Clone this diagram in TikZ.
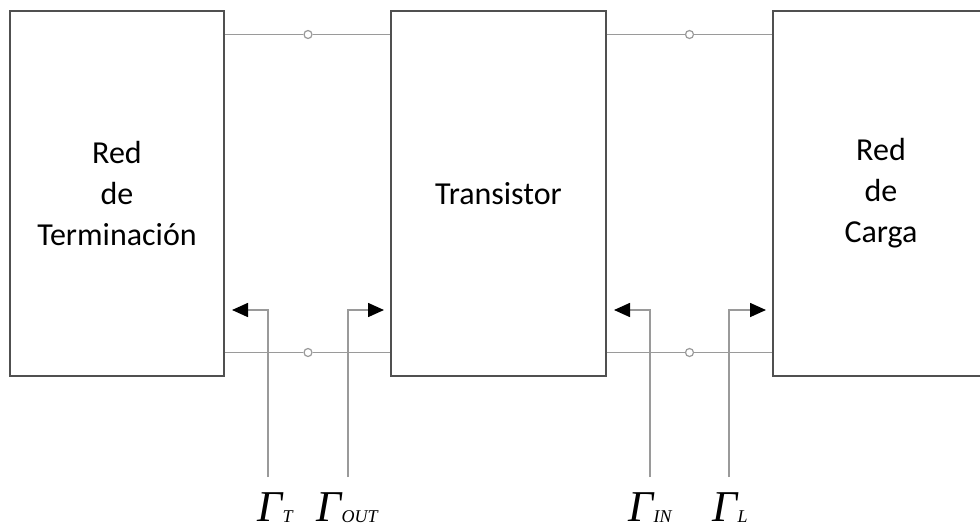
\documentclass[tikz,border=0pt]{standalone}
\usepackage{fontspec}
\setmainfont{Carlito}
\newfontfamily\gfont{Liberation Serif}
\usetikzlibrary{arrows.meta}
\definecolor{boxline}{HTML}{505050}
\definecolor{wirecol}{HTML}{9A9A9A}
\newcommand{\gsub}[1]{\raisebox{-1.5pt}{\fontsize{18}{18}\selectfont #1}}
\begin{document}
\begin{tikzpicture}[x=1pt,y=-1pt,
  blk/.style={draw=boxline,line width=1.8pt,fill=white,inner sep=0pt,align=center,
    font=\fontsize{32}{41}\selectfont},
  wire/.style={draw=wirecol,line width=1.6pt},
  port/.style={circle,draw=wirecol,line width=1.2pt,fill=white,minimum size=8pt,inner sep=0pt},
  refl/.style={draw=wirecol,line width=1.6pt,-{Triangle[length=16pt,width=14pt,fill=black,color=black]}},
  glab/.style={anchor=base,inner sep=0pt,font=\gfont\itshape\fontsize{44}{44}\selectfont}]
\useasboundingbox (0,0) rectangle (980,531);
\node[blk,minimum width=214pt,minimum height=365pt] (term) at (117,193.5) {Red\\de\\Terminación};
\node[blk,minimum width=215pt,minimum height=365pt] (trans) at (498.5,193.5) {Transistor};
\node[blk,minimum width=216pt,minimum height=365pt] (load) at (881,193.5) {Red\\de\\Carga};
\coordinate (ytop) at (0,34.5);
\coordinate (ybot) at (0,352.5);
\node[port] (p1) at (308,34.5) {};
\node[port] (p2) at (308,352.5) {};
\node[port] (p3) at (689.5,34.5) {};
\node[port] (p4) at (689.5,352.5) {};
\draw[wire] (term.east |- ytop) -- (p1) -- (trans.west |- ytop);
\draw[wire] (term.east |- ybot) -- (p2) -- (trans.west |- ybot);
\draw[wire] (trans.east |- ytop) -- (p3) -- (load.west |- ytop);
\draw[wire] (trans.east |- ybot) -- (p4) -- (load.west |- ybot);
\coordinate (b1) at (268,477);
\coordinate (b2) at (348,477);
\coordinate (b3) at (650,477);
\coordinate (b4) at (729,477);
\coordinate (t1) at (232,310);
\coordinate (t2) at (384,310);
\coordinate (t3) at (614,310);
\coordinate (t4) at (766,310);
\draw[refl] (b1) |- (t1);
\draw[refl] (b2) |- (t2);
\draw[refl] (b3) |- (t3);
\draw[refl] (b4) |- (t4);
\node[glab] (gT) at (275,521) {Γ\gsub{T}};
\node[glab] (gO) at (347,521) {Γ\gsub{OUT}};
\node[glab] (gI) at (650,521) {Γ\gsub{IN}};
\node[glab] (gL) at (730,521) {Γ\gsub{L}};
\end{tikzpicture}
\end{document}
